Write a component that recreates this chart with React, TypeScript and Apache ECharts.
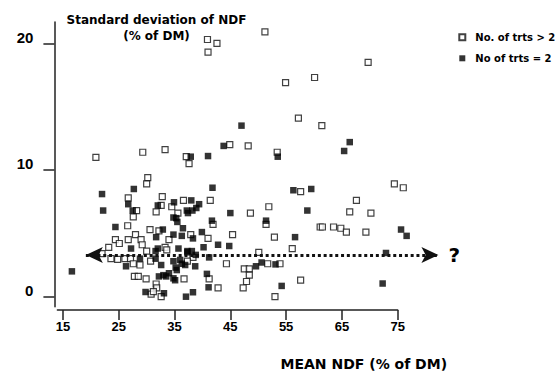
import React, { useEffect, useRef } from "react";
import * as echarts from "echarts";

const xTicks = [15, 25, 35, 45, 55, 65, 75];
const yTicks = [0, 10, 20];

const seriesNames = ["No. of trts > 2", "No of trts = 2"];

// No. of trts > 2 (open squares): [mean NDF, SD NDF]
const openPoints: [number, number][] = [
  [40.9, 20.3], [42.6, 20.0], [41.0, 19.3], [51.2, 20.9], [69.7, 18.5], [60.1, 17.3],
  [54.9, 16.9], [57.2, 14.1], [61.4, 13.5], [53.4, 11.4], [20.9, 11.0], [29.3, 11.4],
  [33.3, 11.6], [37.1, 11.05], [37.6, 10.5], [44.9, 12.0], [48.2, 11.9], [30.2, 9.4],
  [30.0, 8.9], [57.6, 8.3], [74.4, 8.9], [76.0, 8.6], [67.6, 7.6], [66.4, 6.7],
  [70.2, 6.6], [61.1, 5.5], [61.5, 5.5], [63.5, 5.5], [64.8, 5.4], [65.8, 5.1],
  [69.3, 5.1], [56.1, 3.8], [57.6, 1.3], [51.9, 7.1], [51.4, 5.7], [52.9, 4.7],
  [50.1, 3.5], [53.0, 0.0], [53.9, 2.6], [51.7, 2.6], [48.6, 6.6], [41.4, 7.6],
  [32.8, 7.9], [36.6, 7.6], [32.6, 7.2], [34.5, 7.1], [35.6, 6.6], [26.7, 7.8],
  [28.2, 6.8], [27.6, 6.3], [31.7, 6.7], [26.6, 5.6], [24.4, 4.5], [25.1, 4.2],
  [23.2, 3.9], [22.0, 3.4], [26.7, 4.5], [28.0, 4.9], [29.0, 4.5], [29.2, 4.1],
  [30.0, 3.6], [30.6, 5.3], [32.2, 5.2], [34.0, 4.5], [33.3, 3.9], [37.9, 4.9],
  [41.0, 4.6], [45.4, 4.9], [41.9, 5.7], [23.6, 3.0], [24.8, 2.95], [26.1, 3.0],
  [27.1, 3.0], [27.6, 2.6], [28.8, 2.5], [30.7, 2.8], [27.8, 1.6], [28.5, 1.6],
  [29.9, 1.4], [31.7, 1.0], [31.8, 0.7], [30.8, 0.2], [31.2, 0.4], [32.6, 0.0],
  [33.6, 3.7], [38.3, 3.1], [37.3, 2.8], [44.3, 2.6], [36.7, 1.4], [41.2, 1.4],
  [42.8, 0.7], [47.5, 2.2], [48.4, 2.2], [48.4, 1.7], [47.9, 1.2], [47.3, 0.7],
];

// No of trts = 2 (filled squares)
const filledPoints: [number, number][] = [
  [47.0, 13.5], [66.4, 12.2], [65.4, 11.5], [53.5, 11.05], [37.9, 11.05], [41.0, 11.1],
  [43.8, 11.9], [56.3, 8.4], [59.5, 8.5], [58.8, 6.8], [75.6, 5.3], [76.6, 4.8],
  [56.6, 4.7], [72.9, 3.45], [54.2, 0.85], [72.3, 1.04], [51.4, 6.0], [22.0, 8.1],
  [27.7, 8.5], [41.8, 8.6], [26.7, 7.3], [22.2, 6.8], [27.5, 6.8], [32.0, 7.2],
  [34.9, 7.45], [38.0, 7.6], [39.4, 7.3], [37.2, 6.8], [38.2, 6.8], [38.9, 7.0],
  [37.4, 6.6], [45.0, 6.6], [34.8, 6.25], [35.3, 6.2], [41.7, 6.0], [24.4, 5.5],
  [31.7, 4.7], [32.9, 5.3], [34.8, 4.9], [36.3, 4.8], [38.3, 4.6], [39.9, 5.1],
  [27.2, 3.8], [32.0, 3.8], [35.7, 3.8], [37.3, 3.6], [38.1, 3.6], [40.2, 3.9],
  [42.8, 4.1], [44.8, 4.0], [38.8, 3.3], [41.2, 3.1], [26.3, 2.4], [28.8, 3.0],
  [31.6, 3.0], [34.8, 2.8], [36.0, 2.9], [35.2, 2.3], [36.9, 2.5], [38.7, 2.4],
  [32.6, 2.5], [33.0, 1.7], [33.5, 1.6], [34.8, 1.45], [34.0, 1.85], [35.1, 1.3],
  [40.8, 1.8], [41.1, 0.74], [37.05, 0.0], [38.3, 0.35], [33.1, 0.27], [29.8, 0.37],
  [16.6, 2.0], [49.6, 2.4], [50.6, 2.7], [53.1, 2.55], [31.6, 3.6], [36.3, 2.6],
  [35.4, 2.1], [35.5, 5.9], [36.5, 5.4], [37.3, 3.5], [32.2, 1.6],
];

// dotted reference line with arrows at both ends
const refLineY = 3.3;
const refLineFrom = 19.1;
const refLineTo = 82.3;

const X_MIN = 14;
const X_MAX = 75;
const X_MAX_DATA = 84;
const Y_MIN = -0.79;
const Y_MAX = 21.68;

export default function App() {
  const ref = useRef<HTMLDivElement>(null);
  useEffect(() => {
    const chart = echarts.init(ref.current!, null, { renderer: "svg" });
    const pxPerUnit = (397.7 - 57.4) / (X_MAX - X_MIN);
    const dataGridRight = 555 - (57.4 + (X_MAX_DATA - X_MIN) * pxPerUnit);
    const axisColor = "#222";
    const boldDejaVu = (size: number) => `bold ${size}px "DejaVu Sans"`;
    chart.setOption({
      animation: false,
      backgroundColor: "#ffffff",
      grid: [
        { left: 57.4, right: 157.3, top: 22, bottom: 67.3 },
        { left: 57.4, right: dataGridRight, top: 22, bottom: 67.3 },
      ],
      xAxis: [
        {
          type: "value",
          gridIndex: 0,
          min: X_MIN,
          max: X_MAX,
          offset: 3.3,
          axisLine: { show: true, onZero: false, lineStyle: { color: axisColor, width: 1.5 } },
          axisTick: { show: true, length: 10, customValues: xTicks, lineStyle: { color: axisColor, width: 1.5 } },
          axisLabel: {
            customValues: xTicks,
            margin: 10,
            fontFamily: "Liberation Sans",
            fontWeight: "bold",
            fontSize: 13,
            color: "#000",
          },
          splitLine: { show: false },
        },
        {
          type: "value",
          gridIndex: 1,
          min: X_MIN,
          max: X_MAX_DATA,
          show: false,
        },
      ],
      yAxis: [
        {
          type: "value",
          gridIndex: 0,
          min: Y_MIN,
          max: Y_MAX,
          offset: 3,
          axisLine: { show: true, onZero: false, lineStyle: { color: axisColor, width: 1.5 } },
          axisTick: { show: true, length: 11, customValues: yTicks, lineStyle: { color: axisColor, width: 1.5 } },
          axisLabel: {
            customValues: yTicks,
            margin: 21,
            fontFamily: "Liberation Sans",
            fontWeight: "bold",
            fontSize: 15,
            color: "#000",
            verticalAlign: "bottom",
            lineHeight: 12,
          },
          splitLine: { show: false },
        },
        {
          type: "value",
          gridIndex: 1,
          min: Y_MIN,
          max: Y_MAX,
          show: false,
        },
      ],
      legend: {
        orient: "vertical",
        left: 453.3,
        top: 26.3,
        itemWidth: 6,
        itemHeight: 6,
        itemGap: 9,
        data: seriesNames,
        textStyle: {
          fontFamily: "DejaVu Sans",
          fontWeight: "bold",
          fontSize: 10,
          lineHeight: 12,
          color: "#000",
          padding: [0, 0, 0, 5],
        },
      },
      graphic: [
        {
          type: "text",
          x: 156.5,
          y: 19.5,
          style: { text: "Standard deviation of NDF", font: boldDejaVu(12), fill: "#000", align: "center", verticalAlign: "middle" },
        },
        {
          type: "text",
          x: 156.5,
          y: 36.2,
          style: { text: "(% of DM)", font: boldDejaVu(12), fill: "#000", align: "center", verticalAlign: "middle" },
        },
        {
          type: "text",
          x: 363.8,
          y: 364,
          style: { text: "MEAN NDF (% of DM)", font: boldDejaVu(14), fill: "#000", align: "center", verticalAlign: "middle" },
        },
      ],
      series: [
        {
          name: seriesNames[0],
          type: "scatter",
          xAxisIndex: 0,
          yAxisIndex: 0,
          clip: false,
          symbol: "rect",
          symbolSize: 6,
          itemStyle: { color: "#ffffff", borderColor: "#111", borderWidth: 1.2 },
          data: openPoints,
          z: 2,
        },
        {
          name: seriesNames[1],
          type: "scatter",
          xAxisIndex: 0,
          yAxisIndex: 0,
          clip: false,
          symbol: "rect",
          symbolSize: 6.5,
          itemStyle: { color: "#000" },
          data: filledPoints,
          z: 3,
        },
        {
          type: "scatter",
          xAxisIndex: 1,
          yAxisIndex: 1,
          data: [],
          silent: true,
          z: 4,
          markLine: {
            silent: true,
            symbol: ["arrow", "arrow"],
            symbolSize: [12, 17],
            lineStyle: { color: "#111", width: 3, type: [3, 2.8] },
            label: {
              show: true,
              position: "end",
              formatter: "?",
              distance: 10,
              fontFamily: "DejaVu Sans",
              fontWeight: "bold",
              fontSize: 20,
              color: "#000",
            },
            data: [[{ coord: [refLineFrom, refLineY] }, { coord: [refLineTo, refLineY] }]],
          },
        },
      ],
    });
    return () => chart.dispose();
  }, []);
  return (
    <div
      ref={ref}
      style={{ position: "fixed", left: 0, top: 0, width: 555, height: 374, background: "#fff" }}
    />
  );
}
